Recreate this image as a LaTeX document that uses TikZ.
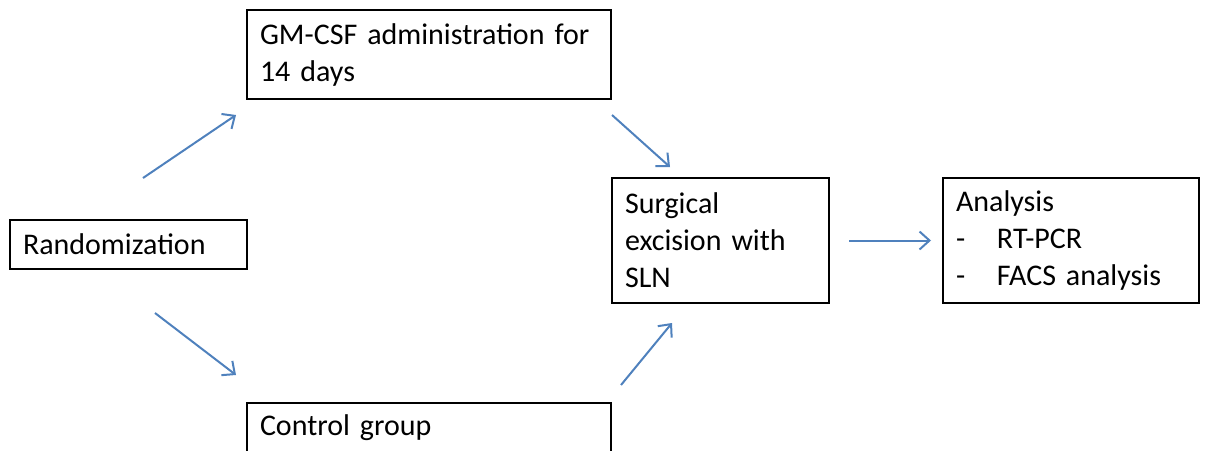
\documentclass[tikz,border=0pt]{standalone}
\usepackage{fontspec}
\setmainfont{Carlito}
\usepackage{tikz}
\usetikzlibrary{arrows.meta}
\definecolor{arrowblue}{RGB}{79,129,189}

\begin{document}
\begin{tikzpicture}[x=0.5pt, y=-0.5pt]
\tikzstyle{box}=[draw, line width=1pt, align=left, inner xsep=6.5pt, inner ysep=0pt,
  font=\fontsize{15}{18.5}\selectfont]
\tikzstyle{arr}=[draw=arrowblue, line width=1pt, -{Straight Barb[length=5pt,width=9pt]}]
\useasboundingbox (0,0) rectangle (1214,450);
\clip (0,0) rectangle (1214,450);
\node at (429,54.5) [box, text width=169pt, minimum width=182pt, minimum height=44.5pt] (gm) {\mbox{GM-CSF administration for}\\14 days};
\node at (128.5,244.5) [box, text width=105.5pt, minimum width=118.5pt, minimum height=24.5pt] (rand) {Randomization};
\node at (720.5,240.5) [box, text width=95.5pt, minimum width=108.5pt, minimum height=62.5pt] (surg) {Surgical\\excision with\\SLN};
\node at (1071,240.5) [box, text width=115pt, minimum width=128pt, minimum height=62.5pt] (anal) {Analysis\\\makebox[20.5pt][l]{-}RT-PCR\\\makebox[20.5pt][l]{-}FACS analysis};
\node at (429,428) [box, text width=169pt, minimum width=182pt, minimum height=25pt] (ctrl) {Control group};
\coordinate (r1) at (143,178);
\coordinate (g1) at (236,115);
\coordinate (g2) at (612,115);
\coordinate (s1) at (670,167);
\coordinate (r2) at (155,313);
\coordinate (c1) at (236,375);
\coordinate (c2) at (621,385);
\coordinate (s2) at (672,323);
\draw[arr] (r1) -- (g1);
\draw[arr] (g2) -- (s1);
\draw[arr] (r2) -- (c1);
\draw[arr] (c2) -- (s2);
\draw[arr, shorten <=9.5pt, shorten >=5.5pt] (surg) -- (anal);
\end{tikzpicture}
\end{document}
